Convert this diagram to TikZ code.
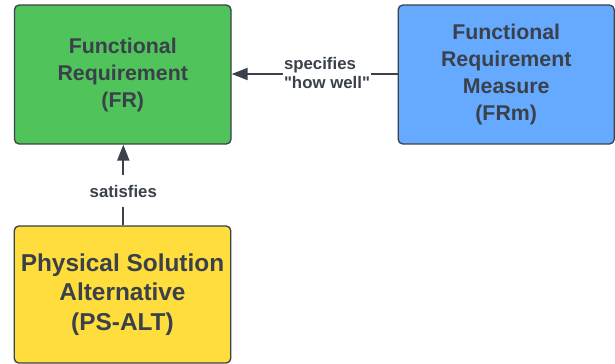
\documentclass[tikz,border=0pt]{standalone}
\usepackage{fontspec}
\setmainfont{Liberation Sans}[Ligatures=TeXOff]
\usetikzlibrary{arrows.meta}
\definecolor{ink}{HTML}{3A414A}
\definecolor{frgreen}{HTML}{50C35A}
\definecolor{frblue}{HTML}{66AAFF}
\definecolor{psyellow}{HTML}{FFDD3C}
\tikzset{
  box/.style={draw=ink, line width=1pt, rounded corners=3.5pt, minimum width=162.4pt, minimum height=104.2pt, align=center, text=ink, font=\bfseries\fontsize{16}{20.25}\selectfont, inner sep=0pt},
  conn/.style={draw=ink, line width=1.5pt, -{Triangle[length=12pt,width=9pt]}},
  lbl/.style={fill=white, text=ink, font=\bfseries\fontsize{12.6}{14.5}\selectfont, inner xsep=1pt, inner ysep=1pt}
}
\begin{document}
\begin{tikzpicture}[x=0.75pt,y=-0.75pt]
\useasboundingbox (0,0) rectangle (615,364);
\node[box, fill=frgreen] (fr) at (122.75,74.5) {Functional\\Requirement\\(FR)};
\node[box, fill=frblue, minimum width=162pt] (frm) at (506.2,74.5) {Functional\\Requirement\\Measure\\(FRm)};
\node[box, fill=psyellow, minimum height=102.8pt, font=\bfseries\fontsize{18.3}{22.1}\selectfont] (ps) at (122.5,294.5) {Physical Solution\\Alternative\\(PS-ALT)};
\draw[conn] (frm.west |- 0,74) -- (fr.east |- 0,74);
\node[lbl, align=left] (l1) at (327,73) {specifies\\"how well"};
\draw[conn] (ps.north -| 123.3,0) -- (fr.south -| 123.3,0);
\node[lbl, inner ysep=7pt] (l2) at (123.3,191) {satisfies};
\end{tikzpicture}
\end{document}
